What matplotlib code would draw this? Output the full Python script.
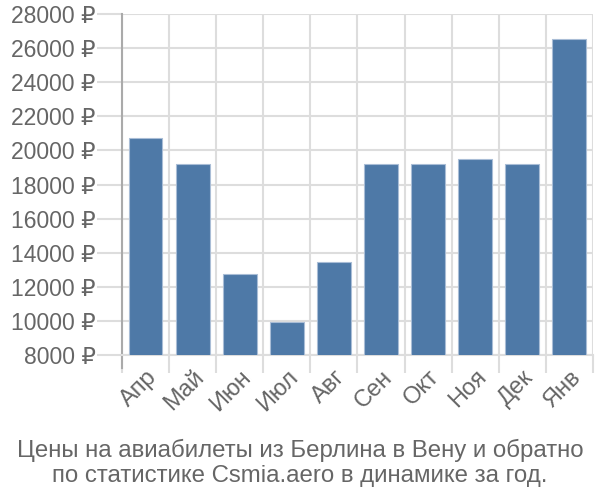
import numpy as np
import matplotlib.pyplot as plt
from matplotlib.ticker import FixedLocator

plt.rcParams['font.family'] = ['Liberation Sans', 'DejaVu Sans']

# данные
months = ["Апр", "Май", "Июн", "Июл", "Авг", "Сен", "Окт", "Ноя", "Дек", "Янв"]
prices = [20750, 19230, 12780, 9960, 13480, 19230, 19230, 19500, 19230, 26530]
yticks = list(range(8000, 28001, 2000))

fig = plt.figure(figsize=(6, 5), dpi=100)
ax = fig.add_axes([0.2033, 0.29, 0.785, 0.682])

x = np.arange(len(months))
ax.bar(x, prices, width=0.72, color="#4e79a7", edgecolor="#a9bdd6", linewidth=0.8, zorder=3)

ax.set_xlim(-0.5, len(months) - 0.5)
ax.set_ylim(8000, 28000)
ax.set_yticks(yticks)
ax.set_yticklabels([f"{v} ₽" for v in yticks])
ax.set_xticks(x)
ax.set_xticklabels(months, rotation=45, ha="right", va="top", rotation_mode="anchor")
ax.xaxis.set_minor_locator(FixedLocator(np.arange(-0.5, len(months), 1)))

ax.grid(True, axis="y", color="#dddddd", linewidth=1.5, zorder=0)
ax.grid(True, axis="x", which="minor", color="#dddddd", linewidth=1.5, zorder=0)
ax.tick_params(axis="x", which="major", length=0, pad=8, labelsize=17, labelcolor="#666666")
ax.tick_params(axis="x", which="minor", length=13, width=1.5, color="#dddddd")
ax.tick_params(axis="y", length=18, width=1.5, color="#dddddd", pad=1, labelsize=16.5, labelcolor="#666666")

for s in ["top", "right"]:
    ax.spines[s].set_visible(False)
ax.spines["bottom"].set_color("#dddddd")
ax.spines["bottom"].set_linewidth(1.5)
ax.spines["left"].set_color("#aaaaaa")
ax.spines["left"].set_linewidth(1.5)
ax.spines["left"].set_bounds(8000 - 750, 28000)

fig.text(0.5, 0.074, "Цены на авиабилеты из Берлина в Вену и обратно\nпо статистике Csmia.aero в динамике за год.",
         ha="center", va="center", fontsize=17.3, color="#666666", linespacing=1.15)

fig.savefig("out.png", dpi=100)
